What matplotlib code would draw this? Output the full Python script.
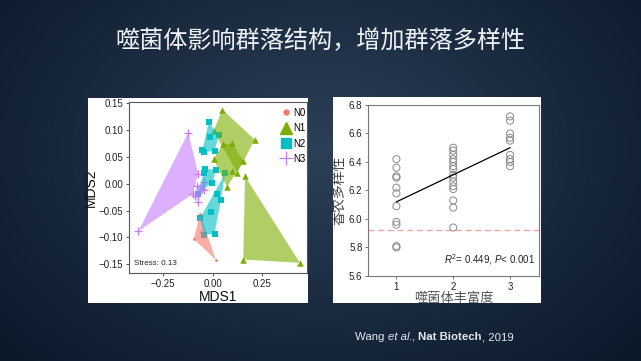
#!/usr/bin/env python3
"""
Slide: phage richness shapes community structure and raises diversity.
Left: NMDS ordination with hulls; right: Shannon diversity vs phage richness.
"""

import matplotlib.pyplot as plt
import numpy as np
from matplotlib.patches import Rectangle, Polygon

plt.rcParams['font.family'] = ['Liberation Sans', 'Noto Sans CJK SC', 'DejaVu Sans']
plt.rcParams['mathtext.fontset'] = 'custom'
plt.rcParams['mathtext.rm'] = 'Liberation Sans'
plt.rcParams['mathtext.it'] = 'Liberation Sans:italic'
plt.rcParams['mathtext.bf'] = 'Liberation Sans:bold'

# ---- NMDS data ----
groups = ['N0', 'N1', 'N2', 'N3']
colors = {'N0': '#F8766D', 'N1': '#7CAE00', 'N2': '#00BFC4', 'N3': '#C77CFF'}

n0_x = [-0.063, -0.095, 0.015, -0.060]
n0_y = [-0.056, -0.103, -0.141, -0.090]
n0_hull = [0, 0, 0, 0]

n1_x = [0.049, 0.005, 0.213, 0.125, 0.051, 0.100, 0.005, 0.155, 0.073, 0.100, 0.164, 0.155, 0.441]
n1_y = [0.138, 0.098, 0.082, 0.020, 0.073, 0.075, 0.046, 0.042, -0.006, 0.023, 0.014, -0.141, -0.147]
n1_hull = [0, 0, 0, 0, 1, 1, 1, 1, 1, 1, 2, 2, 2]

n2_x = [-0.020, -0.015, 0.032, -0.052, -0.041, 0.010, -0.039, 0.019, -0.046, -0.074, -0.002,
        0.064, 0.024, 0.042, -0.010, 0.010, -0.063, -0.044]
n2_y = [0.114, 0.087, 0.091, 0.062, 0.059, 0.061, 0.028, 0.026, 0.020, -0.019, 0.002,
        0.020, -0.019, -0.030, -0.053, -0.093, -0.064, -0.095]
n2_hull = [0, 0, 0, 0, 0, 0, 1, 1, 1, 1, 1, 2, 2, 2, 2, 2, 2, 2]

n3_x = [-0.123, -0.375, -0.100, -0.073, -0.041, -0.078, -0.052, -0.088, -0.074, -0.044]
n3_y = [0.095, -0.088, -0.019, 0.019, 0.004, -0.004, -0.009, -0.022, -0.034, -0.012]
n3_hull = [0, 0, 0, 0, 1, 1, 1, 1, 1, 1]

stress = 0.13

# ---- diversity data ----
richness_1 = [6.42, 6.36, 6.30, 6.29, 6.22, 6.18, 6.09, 5.98, 5.96, 5.81, 5.80]
richness_2 = [6.50, 6.48, 6.45, 6.42, 6.40, 6.37, 6.35, 6.31, 6.29, 6.26, 6.23, 6.21, 6.13, 6.08, 5.94]
richness_3 = [6.72, 6.69, 6.60, 6.57, 6.55, 6.45, 6.42, 6.40, 6.37]
fit_x = [1, 3]
fit_y = [6.12, 6.50]
baseline = 5.92
r2, pval = 0.449, 0.001

# citation pieces: (text, style, weight)
citation = [('Wang ', 'normal', 'normal'), ('et al.', 'italic', 'normal'),
            (', ', 'normal', 'normal'), ('Nat Biotech', 'normal', 'bold'),
            (', 2019', 'normal', 'normal')]


def convex_hull(pts):
    pts = sorted(set(pts))
    if len(pts) < 3:
        return pts

    def cross(o, a, b):
        return (a[0] - o[0]) * (b[1] - o[1]) - (a[1] - o[1]) * (b[0] - o[0])

    lower, upper = [], []
    for p in pts:
        while len(lower) >= 2 and cross(lower[-2], lower[-1], p) <= 0:
            lower.pop()
        lower.append(p)
    for p in reversed(pts):
        while len(upper) >= 2 and cross(upper[-2], upper[-1], p) <= 0:
            upper.pop()
        upper.append(p)
    return lower[:-1] + upper[:-1]


fig = plt.figure(figsize=(6.41, 3.61), dpi=100)

# slide background: radial navy gradient
bg = fig.add_axes([0, 0, 1, 1], zorder=-10)
yy, xx = np.mgrid[0:361, 0:641]
r = np.sqrt(((xx - 320) / 420.0) ** 2 + ((yy - 150) / 300.0) ** 2)
r = np.clip(r, 0, 1)
c_in = np.array([0x2c, 0x40, 0x57]) / 255
c_out = np.array([0x0b, 0x19, 0x2b]) / 255
img = c_in[None, None, :] * (1 - r[..., None]) + c_out[None, None, :] * r[..., None]
bg.imshow(img, aspect='auto', extent=[0, 1, 0, 1], origin='upper')
bg.axis('off')

# white cards behind the two plots
fig.patches.append(Rectangle((0.1373, 0.1607), 0.3432, 0.5679, transform=fig.transFigure,
                             facecolor='white', edgecolor='none', zorder=-5))
fig.patches.append(Rectangle((0.5195, 0.1607), 0.3245, 0.5706, transform=fig.transFigure,
                             facecolor='white', edgecolor='none', zorder=-5))

fig.text(0.5, 0.887, '噬菌体影响群落结构，增加群落多样性', ha='center', va='center',
         fontsize=17.4, color='#eef1f5', family=['Noto Sans CJK SC', 'DejaVu Sans'])

# citation, laid out piece by piece so the mixed styles sit tight
renderer = fig.canvas.get_renderer()
x_px = 355.0
for txt, st, wt in citation:
    t = fig.text(x_px / 641, 0.066, txt, ha='left', va='center', fontsize=8.2,
                 color='#e3e7ec', style=st, weight=wt)
    x_px += t.get_window_extent(renderer=renderer).width

# ---- left: NMDS ----
ax1 = fig.add_axes([0.2012, 0.2438, 0.2785, 0.4737])
data = {
    'N0': (n0_x, n0_y, n0_hull),
    'N1': (n1_x, n1_y, n1_hull),
    'N2': (n2_x, n2_y, n2_hull),
    'N3': (n3_x, n3_y, n3_hull),
}
markers = {'N0': 'o', 'N1': '^', 'N2': 's', 'N3': '+'}
sizes = {'N0': 4, 'N1': 22, 'N2': 16, 'N3': 40}
for g in groups:
    x, y, h = data[g]
    if markers[g] == '+':
        ax1.scatter(x, y, marker='+', s=sizes[g], color=colors[g], linewidths=0.9, zorder=2)
    else:
        ax1.scatter(x, y, marker=markers[g], s=sizes[g], color=colors[g], linewidths=0, zorder=2)
    for hid in sorted(set(h)):
        pts = [(xi, yi) for xi, yi, hi in zip(x, y, h) if hi == hid]
        hull = convex_hull(pts)
        ax1.add_patch(Polygon(hull, closed=True, facecolor=colors[g], edgecolor='none',
                              alpha=0.6, zorder=3))

ax1.set_xlim(-0.423, 0.48)
ax1.set_ylim(-0.166, 0.152)
ax1.set_xticks([-0.25, 0.0, 0.25])
ax1.set_xticklabels(['\u22120.25', '0.00', '0.25'])
ax1.set_yticks([-0.15, -0.10, -0.05, 0.0, 0.05, 0.10, 0.15])
ax1.set_yticklabels(['\u22120.15', '\u22120.10', '\u22120.05', '0.00', '0.05', '0.10', '0.15'])
ax1.tick_params(labelsize=7, colors='#555555', labelcolor='#222222', length=2.5, width=0.7, pad=1.5)
for s in ax1.spines.values():
    s.set_color('#555555')
    s.set_linewidth(0.8)
ax1.set_xlabel('MDS1', fontsize=10, color='#111111', labelpad=1)
ax1.set_ylabel('MDS2', fontsize=10, color='#111111', labelpad=1)
ax1.text(0.03, 0.035, f'Stress: {stress}', transform=ax1.transAxes, fontsize=5.8,
         color='#222222', ha='left', va='bottom')

leg_handles = [
    plt.Line2D([], [], marker='o', ls='none', color=colors['N0'], markersize=3.5),
    plt.Line2D([], [], marker='^', ls='none', color=colors['N1'], markersize=8),
    plt.Line2D([], [], marker='s', ls='none', color=colors['N2'], markersize=7),
    plt.Line2D([], [], marker='+', ls='none', color=colors['N3'], markersize=10, markeredgewidth=0.9),
]
ax1.legend(leg_handles, groups, loc='upper right', frameon=False, fontsize=7,
           handlelength=1.0, handletextpad=0.2, labelspacing=0.55, borderaxespad=0.2,
           bbox_to_anchor=(1.02, 1.0))

# ---- right: diversity vs phage richness ----
ax2 = fig.add_axes([0.5741, 0.2355, 0.2668, 0.4737])
for level, vals in zip([1, 2, 3], [richness_1, richness_2, richness_3]):
    ax2.scatter([level] * len(vals), vals, s=26, facecolors='none', edgecolors='#8a8a8a',
                linewidths=0.7, zorder=2)
ax2.plot(fit_x, fit_y, color='black', lw=0.9, zorder=3)
ax2.axhline(baseline, color='#f4a3a0', ls=(0, (4, 3)), lw=1.0, zorder=1)
ax2.set_xlim(0.5, 3.51)
ax2.set_ylim(5.6, 6.8)
ax2.set_xticks([1, 2, 3])
ax2.set_yticks([5.6, 5.8, 6.0, 6.2, 6.4, 6.6, 6.8])
ax2.tick_params(labelsize=7, colors='#777777', labelcolor='#222222', length=2.5, width=0.7, pad=1.5)
for s in ax2.spines.values():
    s.set_color('#777777')
    s.set_linewidth(0.8)
ax2.set_ylabel('香农多样性', fontsize=10, color='#444444', labelpad=2,
               family=['Noto Sans CJK SC', 'DejaVu Sans'])
ax2.set_xlabel('噬菌体丰富度', fontsize=9.5, color='#555555', labelpad=0,
               family=['Noto Sans CJK SC', 'DejaVu Sans'])
ax2.text(0.975, 0.05, rf'$R^2$= {r2}, $P$< {pval}', transform=ax2.transAxes,
         ha='right', va='bottom', fontsize=7, color='#222222')

fig.savefig('out.png', dpi=100)
